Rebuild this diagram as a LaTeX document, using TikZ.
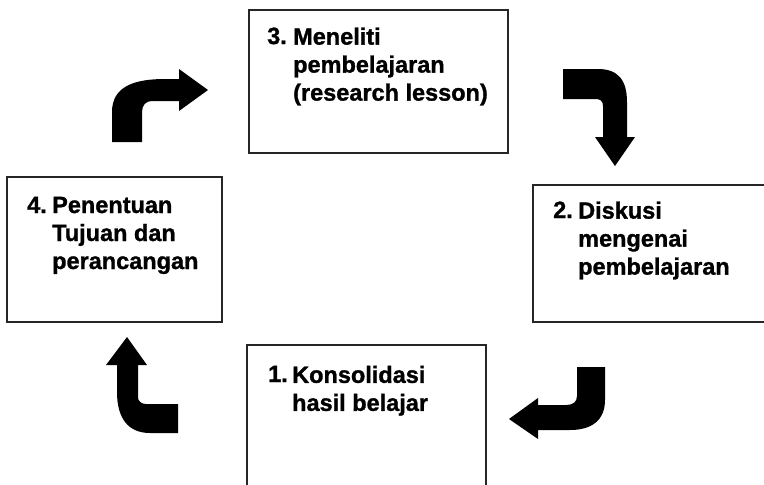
\documentclass[tikz,border=0pt]{standalone}
\usepackage{fontspec}
\newfontfamily\boxfont{Liberation Sans Bold}[FakeBold=1.2]
\usetikzlibrary{positioning}

\tikzset{
  box/.style={draw=black!85,line width=1.6pt},
  num/.style={inner sep=0pt,anchor=base west,font=\boxfont\fontsize{23.5}{28}\selectfont},
  lbl/.style={inner sep=0pt,anchor=north west,align=left,font=\boxfont\fontsize{23.5}{28}\selectfont},
  bent/.style={fill=black,draw=none}
}

\begin{document}
\begin{tikzpicture}[x=1pt,y=-1pt]
      \useasboundingbox (0,0) rectangle (764,485);
      % boxes
      \draw[box] (249,10) rectangle (508,153);
      \draw[box] (533,185) rectangle (768,322);
      \draw[box] (247,345) rectangle (486,490);
      \draw[box] (7,177) rectangle (222,322);
      % texts
      \node[num](n3) at (267,44) {3.};
      \node[lbl](t3) at ([xshift=6pt]n3.north east) {Meneliti\\pembelajaran\\(research lesson)};
      \node[num](n2) at (553,218) {2.};
      \node[lbl](t2) at ([xshift=5pt]n2.north east) {Diskusi\\mengenai\\pembelajaran};
      \node[num](n1) at (268,382) {1.};
      \node[lbl](t1) at ([xshift=4pt]n1.north east) {Konsolidasi\\hasil belajar};
      \node[num](n4) at (27,213) {4.};
      \node[lbl](t4) at ([xshift=5pt]n4.north east) {Penentuan\\Tujuan dan\\perancangan};
      % arrows
      \fill[bent] (112,142) -- (112,112) .. controls (112,86) and (135,79) .. (165,79)
        -- (179,79) -- (179,69) -- (208,90) -- (179,111) -- (179,101) -- (152,101)
        .. controls (146,101) and (142,105) .. (142,112) -- (142,142) -- cycle;
      \fill[bent] (563,69) -- (598,69) .. controls (618,69) and (627,80) .. (627,102)
        -- (627,137) -- (635,137) -- (615,166) -- (595,137) -- (603,137) -- (603,106)
        .. controls (603,101) and (600,99) .. (596,99) -- (563,99) -- cycle;
      \fill[bent] (577,367) -- (605,367) -- (605,400) .. controls (605,420) and (592,430) .. (570,430)
        -- (538,430) -- (538,439) -- (509,419) -- (538,398) -- (538,405) -- (566,405)
        .. controls (573,405) and (577,402) .. (577,396) -- cycle;
      \fill[bent] (178,404) -- (178,433) -- (150,433) .. controls (128,433) and (117,418) .. (117,392)
        -- (117,365) -- (106,365) -- (127,337) -- (147,365) -- (138,365) -- (138,397)
        .. controls (138,401) and (141,404) .. (146,404) -- cycle;
    \end{tikzpicture}
\end{document}
